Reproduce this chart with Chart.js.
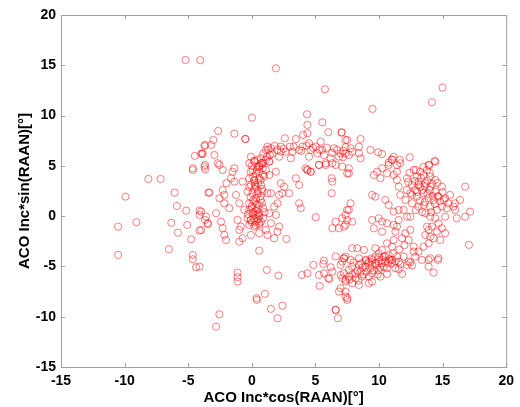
<!DOCTYPE html>
<html>
<head>
<meta charset="utf-8">
<script src="https://cdn.jsdelivr.net/npm/chart.js@4.4.0/dist/chart.umd.min.js"></script>
<style>
  html, body { margin: 0; padding: 0; background: #ffffff; }
  #c { display: block; }
</style>
</head>
<body>
<canvas id="c" width="520" height="407"></canvas>
<script>
// Axis range and tick step (degrees)
const axisMin = -15;
const axisMax = 20;
const tickStep = 5;

// Dense vertical band near the origin
const bandX = [-0.2,0.19,0.45,0.72,1.11,1.37,0.06,0.32,0.58,0.85,-0.2,0.19,0.58,0.97,-0.07,0.32,0.72,-0.33,0.06,0.45,0.85,1.23,-0.2,0.19,0.58,-0.2,0.06,0.32,0.58,-0.07,0.32,0.72,-0.33,-0.2,0.19,0.58,1.11,1.5,1.37,1.89,1.76,2.02,2.15,1.5,
  0.0,0.45,0.9,0.1,0.5,0.8,0.2,-0.1,0.35,0.7,0.0,0.4,0.9,-0.3,0.2,0.5,0.0,0.9,1.0,0.3,-0.1,0.6,1.1,0.25,-0.2,
  0.1,0.6,0.3,0.8,0.4,0.1,0.7,0.5,0.2,0.7,0.4,0.8,1.2,1.6,1.3,0.9,0.0,0.45,-0.1,0.6];
const bandY = [5.26,5.42,5.59,5.26,5.59,5.42,4.59,4.26,4.42,4.76,3.77,3.6,3.77,3.93,3.1,2.93,3.1,2.44,2.28,2.28,2.44,2.28,1.28,1.45,1.11,0.62,0.29,0.12,0.29,-0.38,-0.55,-0.55,-0.21,-0.87,-1.04,-0.87,-1.37,-0.71,0.29,0.12,0.95,1.28,2.11,2.28,
  5.0,4.9,4.1,3.9,3.3,2.7,2.7,1.9,1.8,1.6,1.0,0.7,0.8,0.2,-0.2,-0.3,-0.6,-0.2,0.4,0.5,4.4,5.0,4.6,3.1,2.9,
  0.4,0.0,-0.9,1.3,1.2,1.6,2.0,2.5,3.5,3.6,4.6,5.3,5.9,6.2,6.6,6.2,0.8,0.2,-0.4,-0.7];

// Upper arc from the band towards the right
const upperX = [-0.07,0.72,0.19,1.23,1.5,1.11,1.42,0.85,1.37,0.58,2.28,2.28,2.67,2.99,3.19,2.15,3.06,3.72,3.98,4.5,4.63,5.02,5.41,5.54,5.15,4.5,5.67,6.46,6.85,6.2,7.37,5.28,5.81,6.59,7.11,4.24,
  7.06,7.5,8.55,7.37,7.76,8.42,6.98,7.63,8.42,8.55,7.16,9.33,9.93,10.24,11.15,11.02,11.63,12.41,10.76,11.41,10.24,14.37,13.95,7.63,
  2.6,3.46,4.03,4.37,6.01,7.06,7.37,-0.51,1.37,1.89,4.37,4.63,5.28,5.81,6.33,7.5,7.63,
  2.5,3.3,3.9,4.3,4.8,5.3,5.9,6.3,6.7,7.2,7.9,2.0,1.8];
const upperY = [5.91,5.75,5.52,6.91,6.75,6.58,6.08,5.26,5.42,4.92,6.91,6.41,6.41,6.91,6.41,5.91,5.75,6.58,6.91,7.25,6.58,6.91,7.41,6.58,6.25,5.91,6.08,6.75,5.91,5.75,6.25,5.09,5.26,5.09,4.92,4.76,
  8.3,7.57,7.67,6.85,6.75,6.91,6.25,6.08,6.25,5.75,5.85,6.58,6.35,6.18,5.91,5.65,5.59,5.85,5.32,5.09,4.76,5.49,5.06,4.76,
  7.74,7.67,8.07,8.24,8.34,8.34,7.57,7.67,4.09,4.42,4.59,4.42,5.09,5.09,5.26,4.26,4.26,
  6.7,6.9,6.5,7.0,6.8,6.6,6.8,6.3,6.6,6.5,6.4,6.6,7.0];

// Right-hand side of the ring
const rightX = [9.59,10.11,9.85,10.63,11.15,11.41,11.41,10.76,11.02,11.67,13.9,14.42,12.98,13.5,14.03,12.2,13.11,14.42,14.94,13.77,13.24,12.72,
  12.59,12.85,13.24,13.64,14.03,14.42,14.68,12.46,12.98,13.5,13.9,14.29,14.81,15.2,15.46,14.94,14.55,14.03,13.5,13.11,12.59,12.07,11.67,11.55,12.2,11.94,12.46,13.64,14.03,14.42,14.68,14.94,14.55,14.29,13.9,13.5,13.77,14.16,15.2,15.33,15.85,15.98,16.11,16.77,17.16,16.37,15.59,15.2,14.81,14.03,13.9,13.64,15.98,16.77,17.07,
  12.8,13.3,13.8,14.2,12.6,13.0,13.4,13.8,14.2,13.2,13.6,14.4,12.9,13.4,14.1,
  12.4,12.9,13.5,14.0,14.6,15.0,12.3,13.1,13.6,14.0,14.6,15.1];
const rightY = [4.09,3.77,4.42,4.26,4.09,4.42,3.6,5.09,5.59,5.26,5.09,5.42,3.93,4.09,3.93,3.77,3.43,3.6,2.93,4.59,4.42,4.59,
  3.1,2.6,2.93,3.27,2.93,2.44,1.94,2.28,1.94,2.28,1.78,1.61,1.45,1.78,1.28,0.95,0.62,0.95,1.11,0.95,1.28,1.61,2.11,2.93,2.6,0.62,-0.05,0.29,-0.05,-0.21,-0.71,-1.21,-1.54,-2.2,-2.7,-3.03,-1.04,-1.04,-0.05,0.79,0.95,0.62,-0.21,-0.05,0.45,1.61,2.11,-1.7,-2.37,-2.04,-1.37,-1.87,1.28,2.93,-2.86,
  3.5,3.8,3.5,3.2,2.1,2.4,2.6,2.2,2.0,1.5,1.4,1.2,0.6,0.4,0.4,
  4.3,4.6,4.9,4.3,3.3,2.4,3.4,3.1,3.0,2.6,2.0,1.6];

// Lower arc of the ring
const lowerX = [9.2,12.2,12.46,13.37,13.9,14.63,14.29,11.55,11.81,10.63,10.11,9.46,9.2,8.42,7.89,7.37,7.37,7.5,6.98,
  7.63,8.15,8.55,8.94,9.46,9.72,9.98,10.24,10.5,10.9,8.42,7.89,7.24,7.11,7.63,8.15,8.67,9.46,9.98,10.37,11.02,11.29,10.63,
  14.68,14.03,13.11,12.72,12.33,12.07,12.46,11.81,11.41,11.55,11.29,11.15,11.02,10.63,10.24,9.98,9.72,9.46,9.2,8.94,8.42,8.81,8.28,7.89,7.37,7.76,7.11,9.72,10.37,10.76,11.02,11.41,11.55,11.94,12.33,12.72,12.85,13.9,
  8.6,9.0,9.3,9.8,10.2,10.7,8.3,8.8,9.6,10.1,10.8,11.3,7.9,9.2,8.0,
  4.84,5.62,5.28,5.33,6.01,6.1,5.67,6.33,6.2,6.98,6.98,7.37,6.85,7.37,6.59,7.24,5.67,3.93,4.37,
  9.4,10.0,10.5,11.1,11.6,12.0,8.7,9.0,9.9,8.4,7.7,11.7,12.6];
const lowerY = [-4.69,-4.85,-4.62,-4.35,-4.35,-4.35,-5.61,-5.28,-5.75,-5.75,-6.01,-6.51,-6.67,-6.84,-6.67,-6.51,-7.5,-8.16,-7.17,
  -5.35,-5.68,-5.52,-5.02,-4.85,-4.69,-4.52,-4.35,-4.52,-4.42,-4.85,-5.02,-5.68,-6.17,-6.01,-6.17,-6.01,-5.68,-5.35,-5.02,-4.69,-5.18,-5.18,
  -4.19,-4.19,-3.53,-3.03,-2.37,-1.7,-1.37,-2.2,-1.04,-0.38,-1.54,-2.37,-3.03,-2.7,-3.36,-3.69,-4.02,-4.35,-4.52,-4.35,-4.19,-3.36,-3.19,-3.19,-4.02,-4.35,-4.52,-3.19,-4.02,-3.86,-4.35,-4.02,-4.52,-4.02,-4.52,-3.53,-4.02,-5.02,
  -4.7,-4.4,-5.2,-4.9,-4.7,-4.7,-5.4,-5.8,-5.4,-5.1,-4.3,-4.5,-5.8,-6.0,-4.6,
  -4.85,-4.75,-5.85,-6.94,-6.17,-6.25,-5.68,-5.52,-5.08,-4.85,-5.85,-6.34,-7.5,-8.0,-9.32,-4.19,-4.42,-5.85,-5.68,
  -4.2,-4.1,-4.0,-3.7,-3.3,-2.9,-5.1,-5.5,-5.8,-6.4,-6.3,-4.8,-4.9];

// Interior of the ring
const innerX = [3.72,3.85,2.15,2.02,1.76,2.72,0.58,-0.98,-0.07,0.58,1.23,4.37,4.63,3.46,3.72,2.28,2.54,2.41,2.93,6.28,6.33,6.28,5.02,6.59,6.85,7.11,7.37,7.37,7.5,6.33,6.59,7.24,
  10.24,9.46,9.59,10.24,10.63,11.15,9.72,10.5,10.76,11.15,11.55,12.2,9.46,7.63,7.5,7.89,7.24,9.98,7.76];
const innerY = [1.28,0.79,-1.04,-1.54,-2.2,-2.27,-3.43,-1.37,-1.87,-1.7,-1.87,4.59,4.42,3.77,3.1,3.27,2.93,2.28,2.28,3.77,3.43,2.28,-0.11,-0.55,-1.21,-0.21,0.12,-0.87,0.62,-1.21,-4.0,-4.19,
  -0.55,-0.38,-1.21,-1.54,-0.71,-0.87,1.94,1.61,1.11,0.45,0.62,-0.05,2.11,0.62,-0.38,-0.55,-1.04,-0.21,1.28];

// Scattered points on the left
const leftX = [-3.67,-3.9,-4.48,-4.64,-3.67,-3.98,-3.02,-3.72,-3.2,-2.94,-3.86,-2.55,-3.72,-1.37,-2.65,-1.37,
  -3.67,-4.64,-8.13,-7.17,-9.93,-6.07,-3.41,-5.89,-5.16,-4.11,-4.11,-3.67,-3.46,-9.07,-10.51,-6.33,-5.08,-5.81,-4.11,-4.77,-6.52,-10.51,-4.64,-4.64,-4.38,
  -2.68,-2.29,-1.51,-1.63,-1.37,-0.72,-2.0,-3.33,-2.29,-2.16,-2.55,-2.16,-1.77,-2.81,-3.59,-3.46,-3.98,-3.98,-2.42,-2.29,-2.16,-2.03,-0.98,-0.72,-1.12,-0.85,-1.24,-0.98,-0.59];
const leftY = [7.08,6.25,6.0,4.76,5.09,6.18,7.57,6.98,7.08,6.08,6.18,5.09,4.92,4.76,8.47,8.2,
  4.66,4.59,3.7,3.7,1.94,2.34,2.34,1.01,0.55,0.55,0.12,-0.38,-0.78,-0.61,-1.04,-0.65,-0.87,-1.64,-1.44,-2.3,-3.29,-3.86,-3.86,-4.29,-5.08,
  5.26,4.59,4.42,3.77,3.43,3.43,3.27,2.34,2.6,2.11,1.78,1.28,0.79,0.29,-0.05,-0.71,0.45,-1.37,-0.55,-1.21,-1.87,-2.37,-2.54,-2.2,-0.38,-1.04,2.11,1.28,0.62];

// Outlying points far above and below the ring
const outerX = [-5.21,-4.06,1.89,5.75,0.01,4.34,4.37,5.54,-0.51,14.99,14.16,9.49,
  -2.81,-2.55,0.4,1.5,2.41,2.02,6.59,6.77,7.5,-1.12,-1.12,-1.12,1.18,2.09,1.03,0.37,-4.11];
const outerY = [15.53,15.5,14.7,12.61,9.79,10.13,9.07,9.33,7.67,12.78,11.32,10.66,
  -10.99,-9.76,-8.33,-9.22,-8.9,-10.15,-9.32,-10.15,-8.33,-5.61,-6.07,-6.51,-5.35,-5.91,-7.73,-8.16,-5.02];

function pairs(xs, ys) {
  return xs.map((x, i) => ({ x: x, y: ys[i] }));
}

const allPoints = [].concat(
  pairs(bandX, bandY),
  pairs(upperX, upperY),
  pairs(rightX, rightY),
  pairs(lowerX, lowerY),
  pairs(innerX, innerY),
  pairs(leftX, leftY),
  pairs(outerX, outerY)
);

const tickFont = { family: '"Liberation Sans", Arial, sans-serif', size: 14, weight: 'bold' };
const titleFont = { family: '"Liberation Sans", Arial, sans-serif', size: 15, weight: 'bold' };

// Grey frame around the plot with short inward tick marks on every side
const framePlugin = {
  id: 'frame',
  afterDraw(chart) {
    const { ctx, chartArea: a, scales } = chart;
    ctx.save();
    ctx.strokeStyle = '#a0a0a0';
    ctx.lineWidth = 1;
    ctx.strokeRect(a.left + 0.5, a.top + 0.5, a.right - a.left, a.bottom - a.top);
    ctx.beginPath();
    scales.x.ticks.forEach(t => {
      const px = Math.round(scales.x.getPixelForValue(t.value)) + 0.5;
      ctx.moveTo(px, a.bottom); ctx.lineTo(px, a.bottom - 4);
      ctx.moveTo(px, a.top); ctx.lineTo(px, a.top + 4);
    });
    scales.y.ticks.forEach(t => {
      const py = Math.round(scales.y.getPixelForValue(t.value)) + 0.5;
      ctx.moveTo(a.left, py); ctx.lineTo(a.left + 4, py);
      ctx.moveTo(a.right, py); ctx.lineTo(a.right - 4, py);
    });
    ctx.stroke();
    ctx.restore();
  }
};

new Chart(document.getElementById('c'), {
  type: 'scatter',
  data: {
    datasets: [{
      data: allPoints,
      pointStyle: 'circle',
      pointRadius: 3.6,
      pointBorderWidth: 1,
      pointBorderColor: 'rgba(255,0,0,0.5)',
      pointBackgroundColor: 'rgba(255,255,255,0)'
    }]
  },
  options: {
    responsive: false,
    animation: false,
    events: [],
    layout: { padding: { top: 15, right: 12, left: 0, bottom: 0 } },
    plugins: { legend: { display: false }, tooltip: { enabled: false } },
    scales: {
      x: {
        type: 'linear',
        min: axisMin, max: axisMax,
        grid: { display: false, drawTicks: false },
        border: { display: false },
        ticks: { stepSize: tickStep, color: '#000', font: tickFont, padding: 6, maxRotation: 0 },
        title: { display: true, text: 'ACO Inc*cos(RAAN)[°]', color: '#000', font: titleFont, padding: { top: 0, bottom: 0 } },
        afterFit(scale) { scale.height = 40; }
      },
      y: {
        type: 'linear',
        min: axisMin, max: axisMax,
        grid: { display: false, drawTicks: false },
        border: { display: false },
        ticks: { stepSize: tickStep, color: '#000', font: tickFont, padding: 5 },
        title: { display: true, text: 'ACO Inc*sin(RAAN)[°]', color: '#000', font: titleFont, padding: { top: 16, bottom: 0 } },
        afterFit(scale) { scale.width = 61; }
      }
    }
  },
  plugins: [framePlugin]
});
</script>
</body>
</html>
